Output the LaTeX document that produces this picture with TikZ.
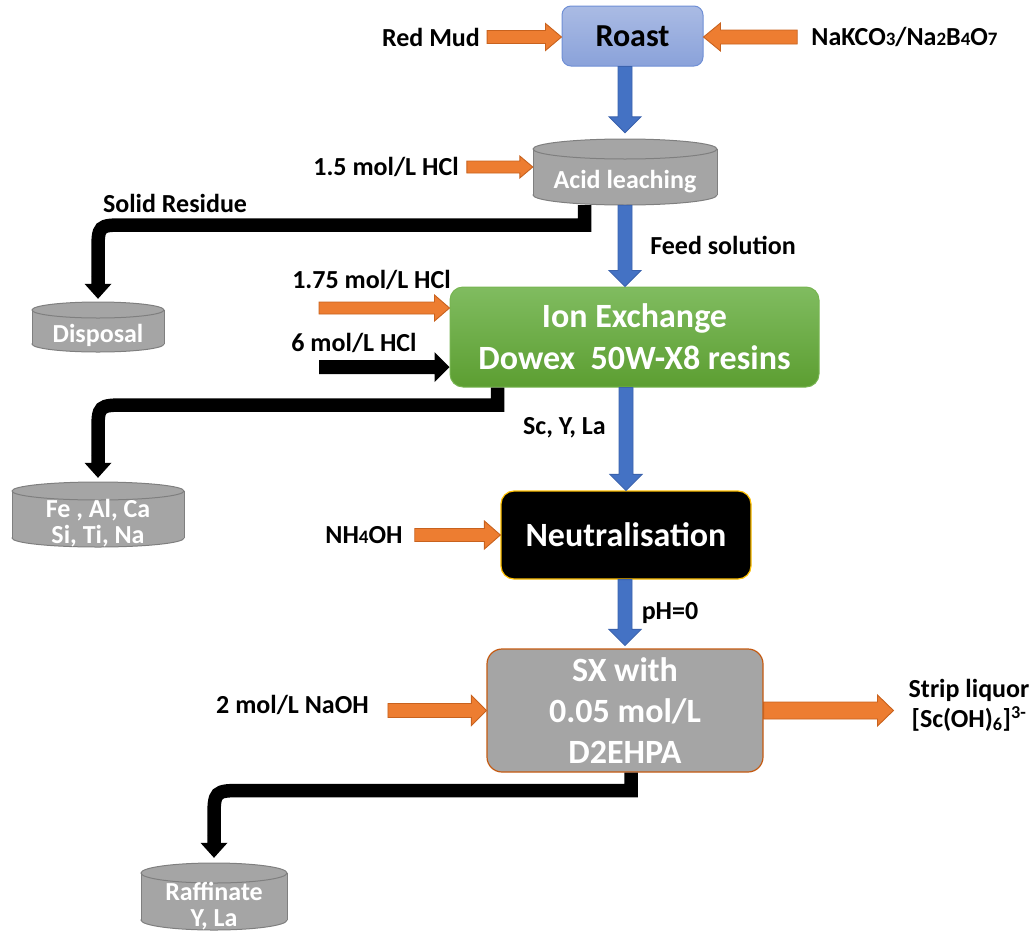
\documentclass[tikz,border=0pt]{standalone}
\usepackage{fontspec}
\setmainfont{Carlito}
\usetikzlibrary{calc}
\definecolor{orng}{HTML}{ED7D31}
\definecolor{orngdk}{HTML}{C8621E}
\definecolor{sxbd}{HTML}{C55A11}
\definecolor{blu}{HTML}{4472C4}
\definecolor{bludk}{HTML}{3A62AD}
\definecolor{grayf}{HTML}{A5A5A5}
\definecolor{grayd}{HTML}{7F7F7F}
\definecolor{gold}{HTML}{FFC000}
\definecolor{roastT}{HTML}{AABBE4}
\definecolor{roastB}{HTML}{8AA2DA}
\definecolor{roastD}{HTML}{6F8FD5}
\definecolor{ionT}{HTML}{80BC60}
\definecolor{ionB}{HTML}{5C9E31}
\definecolor{ionD}{HTML}{78B552}
\newcommand\fsz[1]{\fontsize{#1}{#1}\selectfont}
\newcommand\subd[1]{{\fontsize{19}{19}\selectfont #1}}
% cylinder: name, cx, y top-ellipse centre, y bottom-ellipse centre, rx, ry, text
\newcommand\drum[7]{%
  \path[cyl] (#2,#4) ellipse [x radius=#5pt, y radius=#6pt];
  \fill[grayf] (#2-#5,#3) rectangle (#2+#5,#4);
  \draw[grayd, line width=1pt] (#2-#5,#3) -- (#2-#5,#4) (#2+#5,#3) -- (#2+#5,#4);
  \path[cyl] (#2,#3) ellipse [x radius=#5pt, y radius=#6pt];
  \node[inner sep=0pt, minimum width={2*#5}, minimum height={#4-#3+2*#6}] (#1) at (#2,{(#3+#4)/2}) {};
  \node[wlbl] at (#2,{(#3+#4)/2+#6}) {#7};
}
% block arrow: style, start, end, shaft width, head width, head length
\newcommand\barr[6]{%
  \coordinate (hb) at ($(#3)!#6pt!(#2)$);
  \path[#1] ($(#2)!#4pt/2!90:(#3)$) -- ($(hb)!#4pt/2!90:(#3)$) -- ($(hb)!#5pt/2!90:(#3)$) -- (#3)
    -- ($(hb)!#5pt/2!-90:(#3)$) -- ($(hb)!#4pt/2!-90:(#3)$) -- ($(#2)!#4pt/2!-90:(#3)$) -- cycle;
}
\begin{document}
\begin{tikzpicture}[x=1pt,y=-1pt,
  lbl/.style={font=\bfseries\fsz{26}, inner sep=4pt, text=black},
  wlbl/.style={font=\bfseries\fsz{26}, inner sep=0pt, text=white, align=center},
  cyl/.style={fill=grayf, draw=grayd, line width=1pt},
  oa/.style={fill=orng, draw=orngdk, line width=0.9pt, line join=miter},
  ba/.style={fill=blu, draw=bludk, line width=0.9pt, line join=miter},
  ka/.style={fill=black},
  kline/.style={draw=black, line width=13.5pt, line cap=butt, line join=miter},
  roastbox/.style={rounded corners=9pt, draw=roastD, line width=1pt, top color=roastT, bottom color=roastB,
    minimum width=141pt, minimum height=60pt, font=\bfseries\fsz{32}, text=black},
  ionbox/.style={rounded corners=13pt, draw=ionD, line width=1pt, top color=ionT, bottom color=ionB,
    minimum width=369pt, minimum height=100pt, font=\bfseries\fontsize{34}{42}\selectfont, text=white, align=center},
  neutbox/.style={rounded corners=13pt, fill=black, draw=gold, line width=1.2pt,
    minimum width=250pt, minimum height=88pt, font=\bfseries\fsz{34}, text=white},
  sxbox/.style={rounded corners=15pt, fill=grayf, draw=sxbd, line width=1.2pt,
    minimum width=276pt, minimum height=123pt, font=\bfseries\fontsize{34}{41}\selectfont, text=white, align=center}
]
\useasboundingbox (0,0) rectangle (1036,932);

% ---- nodes ----
\node[roastbox] (roast) at (632.5,36) {Roast};
\node[lbl] (redmud) at (431,37) {Red Mud};
\node[lbl] (nak) at (904.5,37) {NaKCO\subd{3}/Na\subd{2}B\subd{4}O\subd{7}};
\drum{acid}{625}{149}{195}{92}{10}{Acid leaching}
\node[lbl] (hcl15) at (386,167) {1.5 mol/L HCl};
\node[lbl] (solid) at (175,203) {Solid Residue};
\drum{disp}{98}{310}{344}{66}{8}{Disposal}
\node[lbl] (feed) at (723,245) {Feed solution};
\node[ionbox] (ion) at (634.5,337) {Ion Exchange\\Dowex~ 50W-X8 resins};
\node[lbl] (hcl175) at (371.5,280) {1.75 mol/L HCl};
\node[lbl] (hcl6) at (354,343) {6 mol/L HCl};
\drum{fe}{98}{491}{538}{86}{9}{\fontsize{26}{25}\selectfont Fe , Al, Ca\\Si, Ti, Na}
\node[lbl] (scyla) at (564.5,428) {Sc, Y, La};
\node[neutbox] (neut) at (626,535) {Neutralisation};
\node[lbl] (nh4) at (364,535) {NH\subd{4}OH};
\node[lbl] (ph) at (670,613) {pH=0};
\node[sxbox] (sx) at (625,710.5) {SX with\\0.05 mol/L\\D2EHPA};
\node[lbl] (naoh) at (292.5,705) {2 mol/L NaOH};
\node[lbl, align=center, font=\bfseries\fontsize{26}{30}\selectfont] (strip) at (969,705) {Strip liquor\\{}[Sc(OH)\textsubscript{6}]\textsuperscript{3-}};
\drum{raff}{214}{873}{920}{73}{10}{\fontsize{26}{31}\selectfont Raffinate\\Y, La}

% ---- connector end points ----
\coordinate (rmS) at ([xshift=3pt]redmud.east);
\coordinate (rmE) at (redmud.east -| roast.west);
\coordinate (nkS) at ([xshift=-10pt]nak.west);
\coordinate (nkE) at (nak.west -| roast.east);
\coordinate (b1S) at (roast.south -| acid.north);
\coordinate (b1E) at ([yshift=6pt]acid.north);
\coordinate (h15S) at ([xshift=4pt]hcl15.east);
\coordinate (h15E) at (hcl15.east -| acid.west);
\coordinate (b2S) at (acid.south);
\coordinate (b2E) at (ion.north -| acid.south);
\coordinate (in175) at (319,308);
\coordinate (h175E) at (in175 -| ion.west);
\coordinate (in6) at (319,367);
\coordinate (h6E) at (in6 -| ion.west);
\coordinate (b3S) at (ion.south -| neut.north);
\coordinate (b3E) at (neut.north);
\coordinate (nhS) at ([xshift=8pt]nh4.east);
\coordinate (nhE) at (nh4.east -| neut.west);
\coordinate (b4S) at (neut.south -| sx.north);
\coordinate (b4E) at ([yshift=3pt]sx.north);
\coordinate (naS) at ([xshift=15pt]naoh.east |- sx.west);
\coordinate (naE) at (sx.west);
\coordinate (stS) at (sx.east);
\coordinate (stE) at ([xshift=-11pt]strip.west |- sx.east);
\coordinate (k1E) at ([yshift=3pt]disp.north);
\coordinate (k1M) at ([yshift=22pt]k1E);
\coordinate (k2E) at ([yshift=4pt]fe.north);
\coordinate (k2M) at ([yshift=22pt]k2E);
\coordinate (k3E) at ([yshift=5pt]raff.north);
\coordinate (k3M) at ([yshift=22pt]k3E);

% ---- connectors ----
\barr{oa}{rmS}{rmE}{13}{27}{16}
\barr{oa}{nkS}{nkE}{14}{28}{17}
\barr{ba}{b1S}{b1E}{14}{32}{16}
\barr{oa}{h15S}{h15E}{12}{22}{13}
\draw[kline] ([xshift=-40.5pt]acid.south) |- (126,225) .. controls (disp.north |- 0,225) .. (98,253) -- (k1M);
\barr{ka}{k1M}{k1E}{13.5}{27}{15}
\barr{ba}{b2S}{b2E}{14}{32}{16}
\barr{oa}{in175}{h175E}{12}{26}{15}
\barr{ka}{in6}{h6E}{14}{30}{15}
\draw[kline] (ion.south -| 497.5,0) |- (128,405) .. controls (fe.north |- 0,405) .. (98,433) -- (k2M);
\barr{ka}{k2M}{k2E}{13.5}{27}{15}
\barr{ba}{b3S}{b3E}{14}{32}{16}
\barr{oa}{nhS}{nhE}{13}{28}{16}
\barr{ba}{b4S}{b4E}{14}{32}{16}
\barr{oa}{naS}{naE}{14}{30}{15}
\barr{oa}{stS}{stE}{17}{31}{16}
\draw[kline] (sx.south -| 631,0) |- (244,790.5) .. controls (raff.north |- 0,790.5) .. (214,821) -- (k3M);
\barr{ka}{k3M}{k3E}{13.5}{27}{15}
\end{tikzpicture}
\end{document}
